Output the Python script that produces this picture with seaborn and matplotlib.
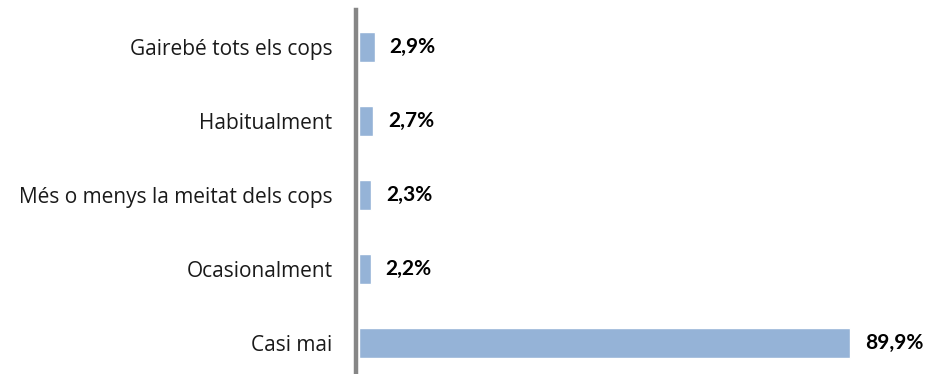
import matplotlib
matplotlib.use("Agg")
import matplotlib.pyplot as plt
import seaborn as sns
import pandas as pd

categories = ["Gairebé tots els cops", "Habitualment", "Més o menys la meitat dels cops",
              "Ocasionalment", "Casi mai"]
values = [2.9, 2.7, 2.3, 2.2, 89.9]
value_labels = ["2,9%", "2,7%", "2,3%", "2,2%", "89,9%"]

df = pd.DataFrame({"categoria": categories, "percentatge": values})

sns.set_theme(style="white")
plt.rcParams["font.family"] = ["Open Sans", "DejaVu Sans"]

fig = plt.figure(figsize=(9.3, 3.74), dpi=100)
ax = fig.add_axes([356 / 930, -6 / 374, 574 / 930, 370 / 374])

sns.barplot(data=df, y="categoria", x="percentatge", orient="h",
            color="#95B3D7", saturation=1, width=0.405, ax=ax)

for i, (v, lab) in enumerate(zip(values, value_labels)):
    ax.text(v + 2.7, i, lab, va="center", ha="left", fontsize=15,
            fontweight="bold", color="black", family=["Lato", "DejaVu Sans"])

ax.set_xlim(-0.5, 104.5)
ax.set_ylim(4.5, -0.5)
ax.set_xlabel("")
ax.set_ylabel("")
ax.set_xticks([])
for s in ["top", "right", "bottom"]:
    ax.spines[s].set_visible(False)
ax.spines["left"].set_position(("data", -0.5))
ax.spines["left"].set_color("#868686")
ax.spines["left"].set_linewidth(3.2)
ax.tick_params(axis="y", length=0, pad=17, labelsize=15, labelcolor="#1a1a1a")

fig.savefig("out.png", dpi=100)
